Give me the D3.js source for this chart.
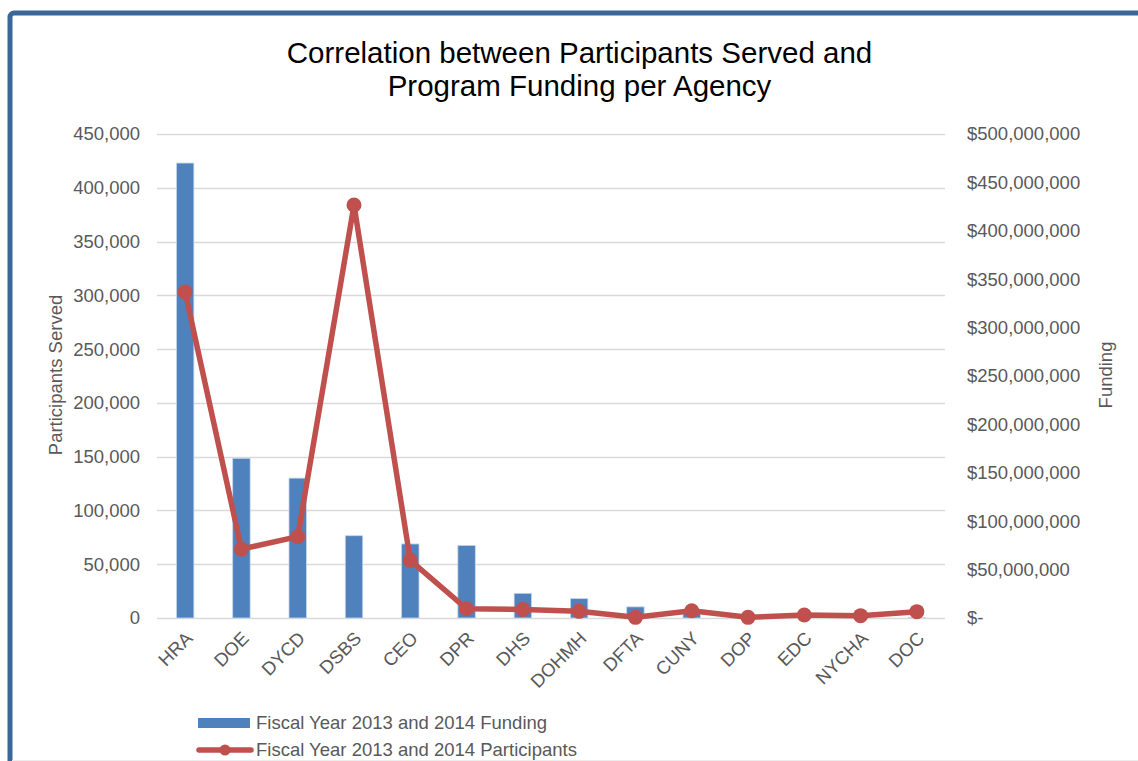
<!DOCTYPE html>
<html>
<head>
<meta charset="utf-8">
<script src="https://cdn.jsdelivr.net/npm/d3@7"></script>
<style>
  html, body { margin: 0; padding: 0; background: #ffffff; }
  svg { display: block; font-family: "Liberation Sans", Arial, sans-serif; }
</style>
</head>
<body>
<svg id="chart" width="1138" height="761"></svg>
<script>
const categories = ["HRA","DOE","DYCD","DSBS","CEO","DPR","DHS","DOHMH","DFTA","CUNY","DOP","EDC","NYCHA","DOC"];
const funding = [470000000, 165000000, 144500000, 85000000, 76500000, 75000000, 25500000, 20000000, 11500000, 7000000, 300000, 300000, 300000, 300000];
const participants = [303000, 64000, 75600, 384000, 53600, 8600, 8000, 6200, 600, 6800, 600, 2800, 2200, 5900];
const leftTicks = [0, 50000, 100000, 150000, 200000, 250000, 300000, 350000, 400000, 450000];
const rightTicks = [0, 50000000, 100000000, 150000000, 200000000, 250000000, 300000000, 350000000, 400000000, 450000000, 500000000];
const titleLines = ["Correlation between Participants Served and", "Program Funding per Agency"];
const seriesNames = ["Fiscal Year 2013 and 2014 Funding", "Fiscal Year 2013 and 2014 Participants"];

const svg = d3.select("#chart");
const plot = { left: 157, right: 945, top: 134, bottom: 618 };
const barColor = "#4f81bd", lineColor = "#c0504d", textColor = "#595959", gridColor = "#d9d9d9";
const fs = "18.5px";

// frame
svg.append("rect").attr("x", 10).attr("y", 13).attr("width", 1300).attr("height", 900)
  .attr("rx", 4).attr("fill", "#fff").attr("stroke", "#3b6699").attr("stroke-width", 5);
svg.append("line").attr("x1", 12).attr("x2", 1138).attr("y1", 760.5).attr("y2", 760.5)
  .attr("stroke", "#ececec").attr("stroke-width", 1);

const x = d3.scaleBand().domain(categories).range([plot.left, plot.right]).paddingInner(0).paddingOuter(0);
const yL = d3.scaleLinear().domain([0, 450000]).range([plot.bottom, plot.top]);
const yR = d3.scaleLinear().domain([0, 500000000]).range([plot.bottom, plot.top]);

// gridlines
svg.append("g").selectAll("line").data(leftTicks).join("line")
  .attr("x1", plot.left).attr("x2", plot.right)
  .attr("y1", d => Math.round(yL(d)) + 0.5).attr("y2", d => Math.round(yL(d)) + 0.5)
  .attr("stroke", gridColor).attr("stroke-width", 1.6);

// left axis
const gL = svg.append("g").attr("transform", `translate(${plot.left},0)`)
  .call(d3.axisLeft(yL).tickValues(leftTicks).tickSize(0).tickPadding(17).tickFormat(d3.format(",")));
gL.select(".domain").remove();
gL.selectAll("text").attr("fill", textColor).style("font-size", fs).style("font-family", "Liberation Sans, Arial, sans-serif");

// right axis
const gR = svg.append("g").attr("transform", `translate(${plot.right},0)`)
  .call(d3.axisRight(yR).tickValues(rightTicks).tickSize(0).tickPadding(22)
    .tickFormat(d => d === 0 ? "$-" : "$" + d3.format(",")(d)));
gR.select(".domain").remove();
gR.selectAll("text").attr("fill", textColor).style("font-size", fs).style("font-family", "Liberation Sans, Arial, sans-serif");

// bars
const bw = x.bandwidth() * 0.31;
svg.append("g").selectAll("rect").data(categories).join("rect")
  .attr("x", (d) => x(d) + x.bandwidth() / 2 - bw / 2)
  .attr("width", bw)
  .attr("y", (d, i) => yR(funding[i]))
  .attr("height", (d, i) => plot.bottom - yR(funding[i]))
  .attr("fill", barColor)
  .attr("stroke", "#c7d6ea").attr("stroke-width", 0.8);

// bottom axis labels
const gB = svg.append("g").attr("transform", `translate(0,${plot.bottom})`)
  .call(d3.axisBottom(x).tickSize(0).tickPadding(0));
gB.select(".domain").remove();
gB.selectAll("text")
  .attr("y", 0).attr("dy", "0.35em")
  .attr("transform", "translate(4,17) rotate(-45)")
  .style("text-anchor", "end")
  .attr("fill", textColor).style("font-size", fs).style("font-family", "Liberation Sans, Arial, sans-serif");

// line
const lineGen = d3.line().x((d, i) => x(categories[i]) + x.bandwidth() / 2).y(d => yL(d));
svg.append("path").datum(participants).attr("d", lineGen)
  .attr("fill", "none").attr("stroke", lineColor).attr("stroke-width", 5.5)
  .attr("stroke-linejoin", "round").attr("stroke-linecap", "round");
svg.append("g").selectAll("circle").data(participants).join("circle")
  .attr("cx", (d, i) => x(categories[i]) + x.bandwidth() / 2)
  .attr("cy", d => yL(d)).attr("r", 7.5).attr("fill", lineColor);

// title
svg.append("text").attr("x", 579.5).attr("y", 63).attr("text-anchor", "middle")
  .style("font-size", "29.5px").attr("fill", "#000")
  .selectAll("tspan").data(titleLines).join("tspan")
  .attr("x", 579.5).attr("dy", (d, i) => i === 0 ? 0 : 32.5).text(d => d);

// axis titles
svg.append("text").attr("transform", "translate(62,375) rotate(-90)").attr("text-anchor", "middle")
  .style("font-size", fs).attr("fill", textColor).text("Participants Served");
svg.append("text").attr("transform", "translate(1112,375) rotate(-90)").attr("text-anchor", "middle")
  .style("font-size", fs).attr("fill", textColor).text("Funding");

// legend
const lg = svg.append("g");
lg.append("rect").attr("x", 198).attr("y", 718).attr("width", 52).attr("height", 10).attr("fill", barColor);
lg.append("text").attr("x", 256).attr("y", 729).style("font-size", fs).attr("fill", textColor).text(seriesNames[0]);
lg.append("line").attr("x1", 199).attr("x2", 251).attr("y1", 750).attr("y2", 750)
  .attr("stroke", lineColor).attr("stroke-width", 5.5).attr("stroke-linecap", "round");
lg.append("circle").attr("cx", 225).attr("cy", 750).attr("r", 5.5).attr("fill", lineColor);
lg.append("text").attr("x", 256).attr("y", 756).style("font-size", fs).attr("fill", textColor).text(seriesNames[1]);
</script>
</body>
</html>
